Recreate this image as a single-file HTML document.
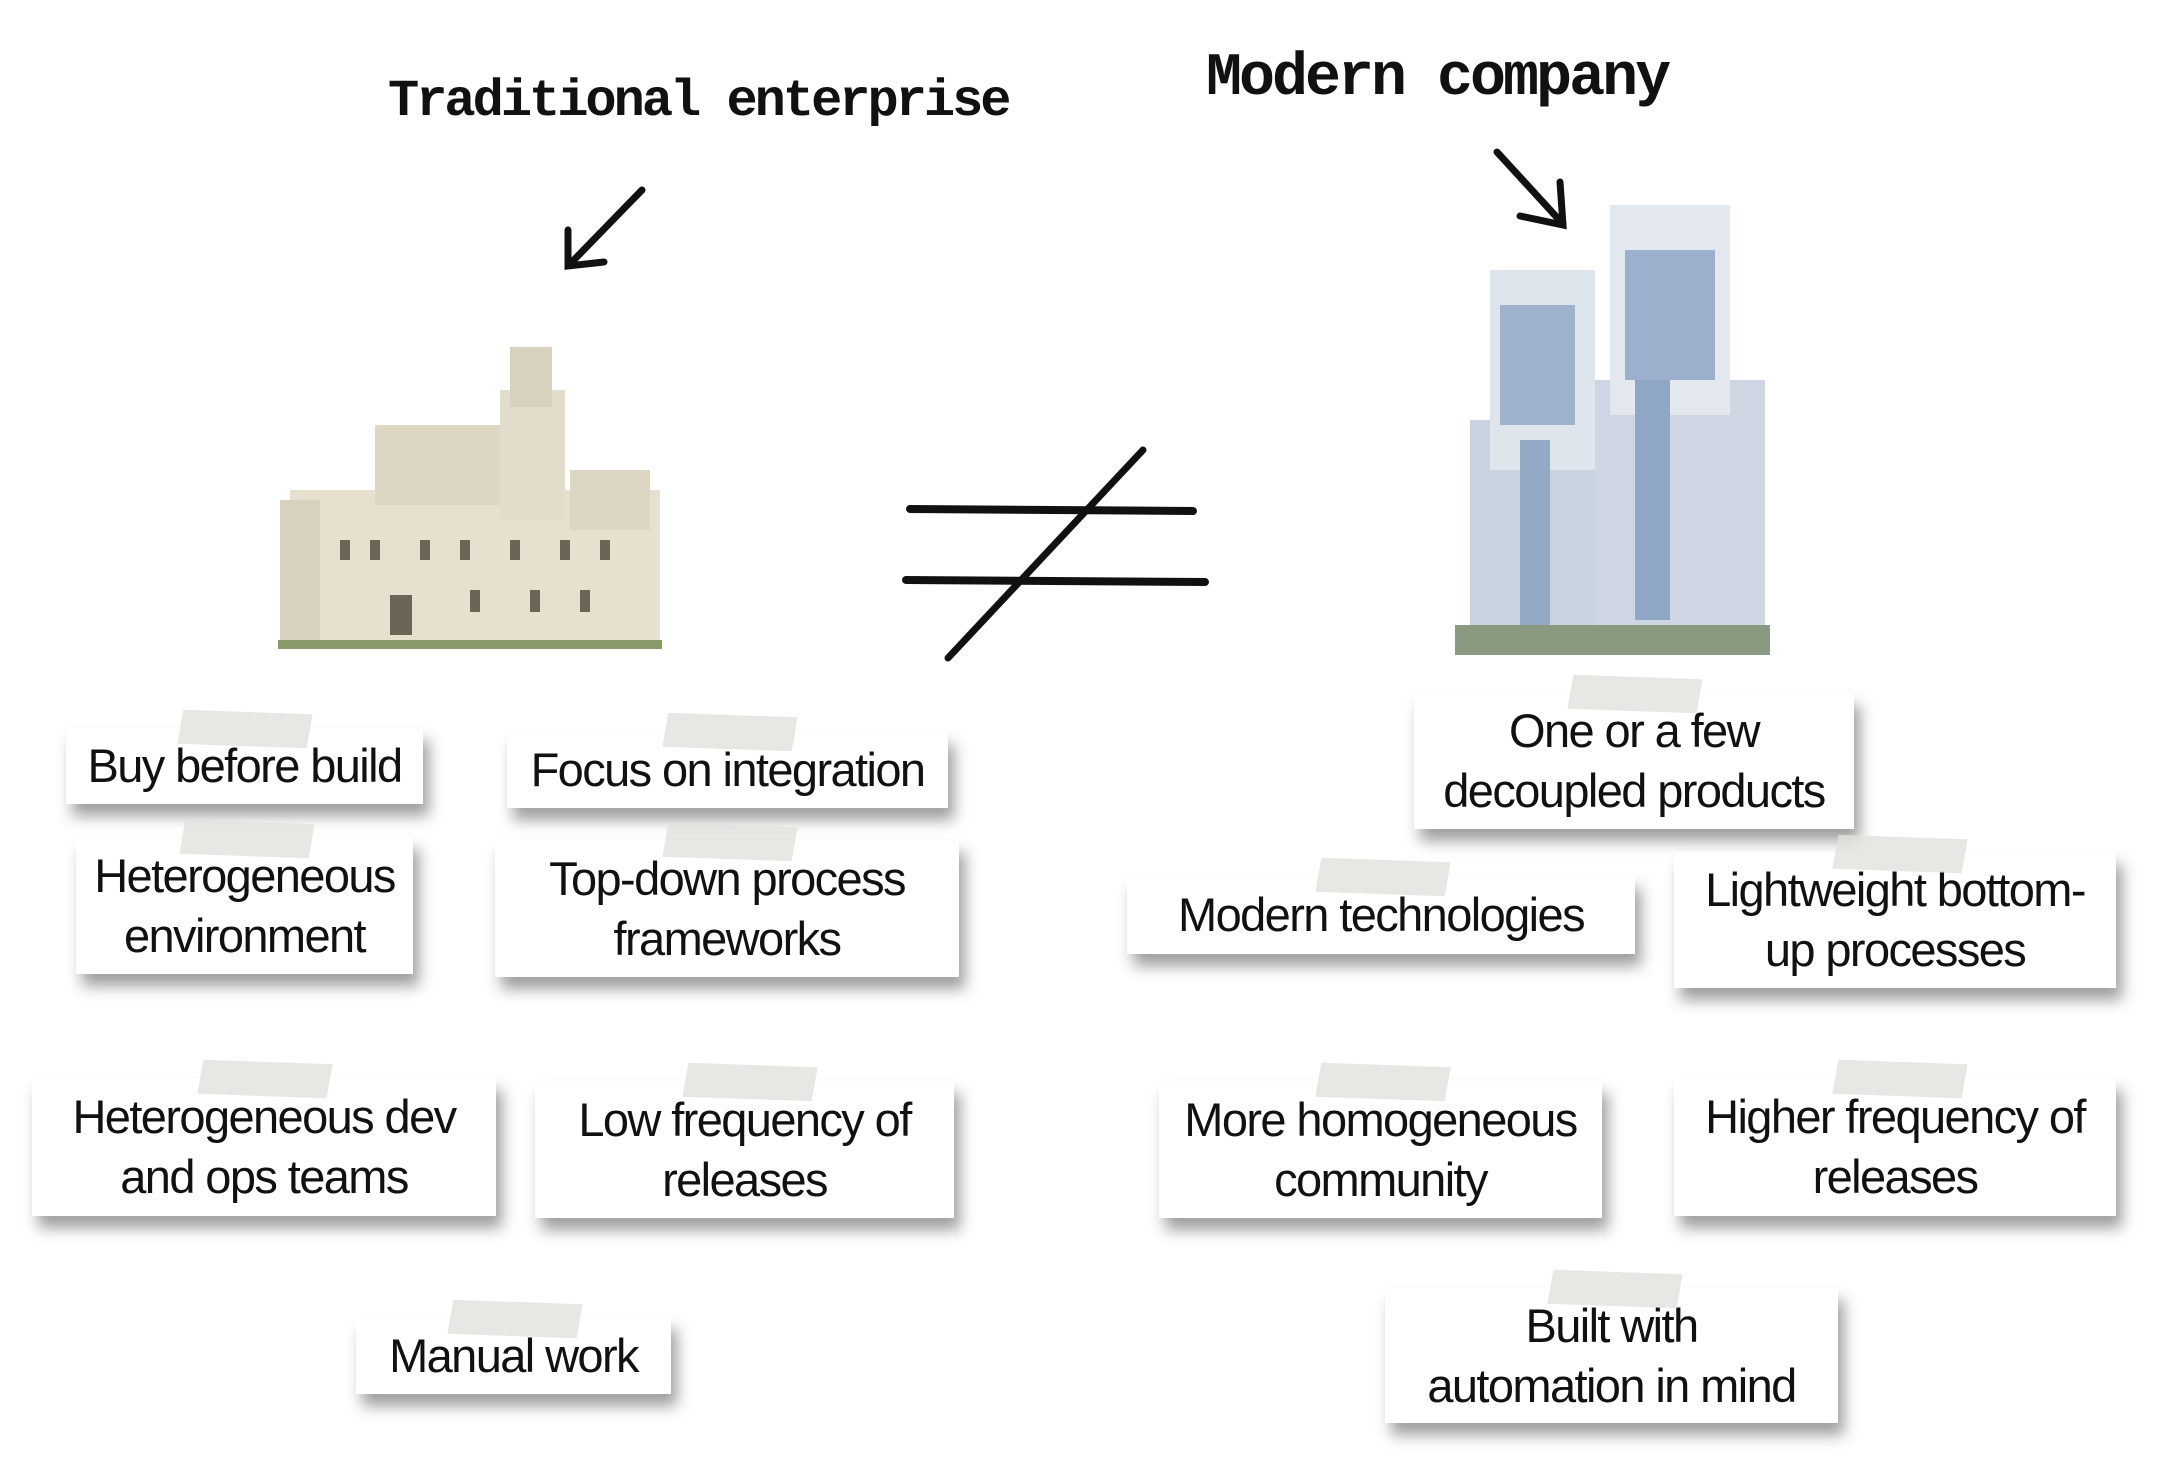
<!DOCTYPE html>
<html><head><meta charset="utf-8"><style>
html,body{margin:0;padding:0;background:#fff;}
body{width:2162px;height:1475px;position:relative;overflow:hidden;font-family:"Liberation Sans",sans-serif;}
.n{position:absolute;background:#fff;box-shadow:6px 12px 14px rgba(0,0,0,.38);display:flex;align-items:center;justify-content:center;text-align:center;font-size:47px;line-height:60px;color:#111;letter-spacing:-1.6px;}
.t{position:absolute;width:130px;height:34px;background:rgba(225,225,220,.8);transform:skewX(-8deg) rotate(2deg);z-index:2;}
.h{position:absolute;font-family:"Liberation Mono",monospace;font-weight:bold;color:#111;letter-spacing:-3px;}
svg{position:absolute;left:0;top:0;}
</style></head><body>
<div class="h" style="left:388px;top:72px;font-size:52px;">Traditional enterprise</div>
<div class="h" style="left:1206px;top:45px;font-size:60px;">Modern company</div>
<svg width="2162" height="1475">
<g stroke="#111" stroke-linecap="round" fill="none">
<path d="M642 190 L570 264" stroke-width="7"/><path d="M568 230 L568 266 L604 262" stroke-width="7"/>
<path d="M1497 152 L1563 224" stroke-width="7"/><path d="M1520 216 L1563 225 L1560 182" stroke-width="7"/>
<path d="M910 509 L1193 511" stroke-width="8"/><path d="M906 580 L1205 582" stroke-width="8"/>
<path d="M1143 450 L948 658" stroke-width="7"/>
</g>
<g>
<rect x="290" y="490" width="370" height="155" fill="#e6e0cf"/>
<rect x="375" y="425" width="140" height="80" fill="#ddd6c2"/>
<rect x="500" y="390" width="65" height="130" fill="#e2dccb"/>
<rect x="510" y="347" width="42" height="60" fill="#d8d1bd"/>
<rect x="570" y="470" width="80" height="60" fill="#ddd6c2"/>
<rect x="280" y="500" width="40" height="145" fill="#d8d1bd"/>
<rect x="278" y="640" width="384" height="9" fill="#8a9a6a"/>
<g fill="#6b6558"><rect x="340" y="540" width="10" height="20"/><rect x="370" y="540" width="10" height="20"/><rect x="420" y="540" width="10" height="20"/><rect x="460" y="540" width="10" height="20"/><rect x="510" y="540" width="10" height="20"/><rect x="560" y="540" width="10" height="20"/><rect x="600" y="540" width="10" height="20"/><rect x="390" y="595" width="22" height="40"/><rect x="470" y="590" width="10" height="22"/><rect x="530" y="590" width="10" height="22"/><rect x="580" y="590" width="10" height="22"/></g>
</g>
<g>
<rect x="1470" y="420" width="140" height="225" fill="#c9d3e0"/>
<rect x="1490" y="270" width="105" height="200" fill="#dfe5ec"/>
<rect x="1500" y="305" width="75" height="120" fill="#9fb2cc"/>
<rect x="1595" y="380" width="170" height="265" fill="#cdd6e2"/>
<rect x="1610" y="205" width="120" height="210" fill="#e2e8ee"/>
<rect x="1625" y="250" width="90" height="130" fill="#9bb0cc"/>
<rect x="1635" y="380" width="35" height="240" fill="#8fa6c4"/>
<rect x="1520" y="440" width="30" height="190" fill="#93a9c6"/>
<rect x="1455" y="625" width="315" height="30" fill="#8a9a80"/>
</g>
</svg>
<div class="t" style="left:180px;top:712px"></div>
<div class="n" style="left:66px;top:728px;width:357px;height:76px;">Buy before build</div>
<div class="t" style="left:665px;top:715px"></div>
<div class="n" style="left:507px;top:732px;width:441px;height:76px;">Focus on integration</div>
<div class="t" style="left:182px;top:822px"></div>
<div class="n" style="left:76px;top:837px;width:337px;height:137px;">Heterogeneous<br>environment</div>
<div class="t" style="left:665px;top:825px"></div>
<div class="n" style="left:495px;top:840px;width:464px;height:137px;">Top-down process<br>frameworks</div>
<div class="t" style="left:200px;top:1062px"></div>
<div class="n" style="left:32px;top:1078px;width:464px;height:138px;">Heterogeneous dev<br>and ops teams</div>
<div class="t" style="left:685px;top:1065px"></div>
<div class="n" style="left:535px;top:1081px;width:419px;height:137px;">Low frequency of<br>releases</div>
<div class="t" style="left:450px;top:1302px"></div>
<div class="n" style="left:356px;top:1317px;width:315px;height:77px;">Manual work</div>
<div class="t" style="left:1570px;top:677px"></div>
<div class="n" style="left:1414px;top:693px;width:440px;height:136px;">One or a few<br>decoupled products</div>
<div class="t" style="left:1318px;top:860px"></div>
<div class="n" style="left:1127px;top:876px;width:508px;height:78px;">Modern technologies</div>
<div class="t" style="left:1835px;top:837px"></div>
<div class="n" style="left:1674px;top:852px;width:442px;height:136px;">Lightweight bottom-<br>up processes</div>
<div class="t" style="left:1318px;top:1065px"></div>
<div class="n" style="left:1159px;top:1081px;width:443px;height:137px;">More homogeneous<br>community</div>
<div class="t" style="left:1835px;top:1062px"></div>
<div class="n" style="left:1674px;top:1078px;width:442px;height:138px;">Higher frequency of<br>releases</div>
<div class="t" style="left:1550px;top:1272px"></div>
<div class="n" style="left:1385px;top:1288px;width:453px;height:135px;">Built with<br>automation in mind</div>
</body></html>
